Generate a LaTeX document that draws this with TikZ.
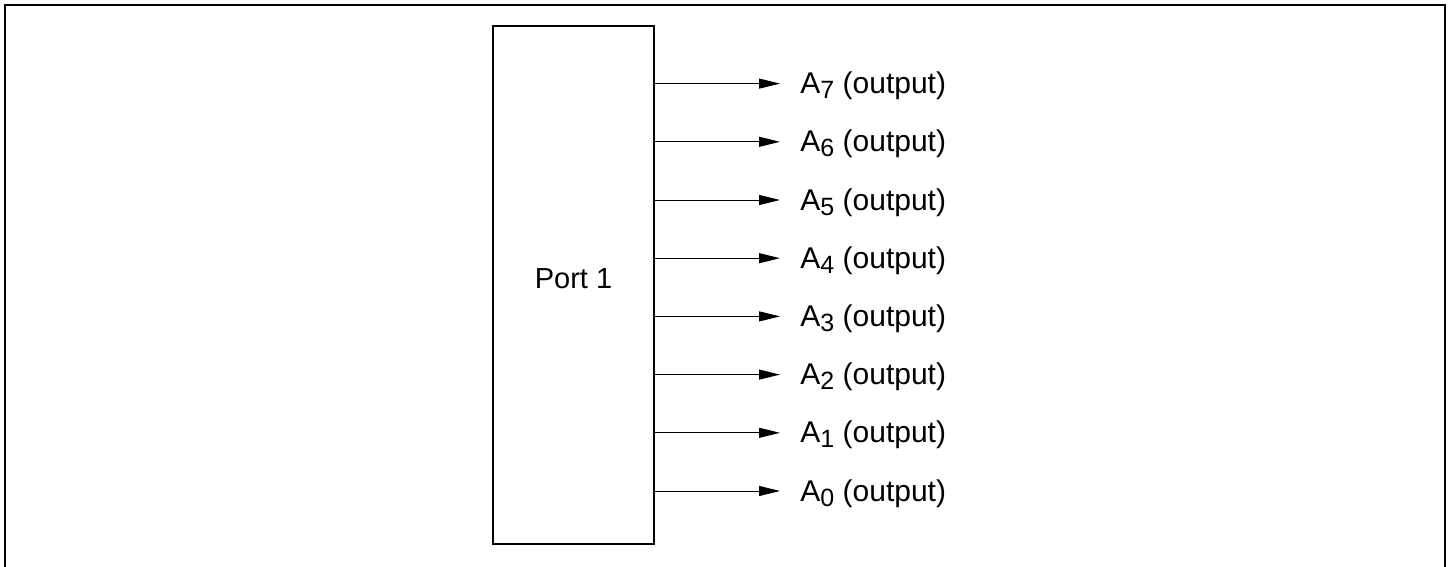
\documentclass[tikz,border=0pt]{standalone}
\usepackage{fontspec}
\setmainfont{Liberation Sans}
\usetikzlibrary{arrows.meta, positioning, calc}

\newcommand{\pinsub}[1]{\raisebox{-2.5pt}{\fontsize{12.5}{14}\selectfont #1}}

\begin{document}
\begin{tikzpicture}[x=0.5pt, y=-0.5pt, font=\fontsize{14.5}{17}\selectfont,
  port/.style={draw, line width=0.8pt, minimum width=80.5pt, minimum height=259pt, inner sep=0pt, text depth=6pt},
  sig/.style={draw, line width=0.5pt, -{Triangle[length=10.5pt, width=5pt]}, shorten >=10pt},
  pin/.style={anchor=west, inner sep=0pt, text height=10pt, text depth=0pt, font=\fontsize{15}{17}\selectfont}]
  \useasboundingbox (0,0) rectangle (1451,567);
  \draw[line width=0.8pt] (5,567) -- (5,5) -- (1445,5) -- (1445,567);
  \node[port] (p1) at (573.5,285) {Port 1};
  \foreach \i in {0,...,7} {
    \node[pin] (a\i) at (800,{491-58.2*\i}) {A\pinsub{\i} (output)};
    \draw[sig] (p1.east |- a\i.west) -- (a\i.west);
  }
\end{tikzpicture}
\end{document}
